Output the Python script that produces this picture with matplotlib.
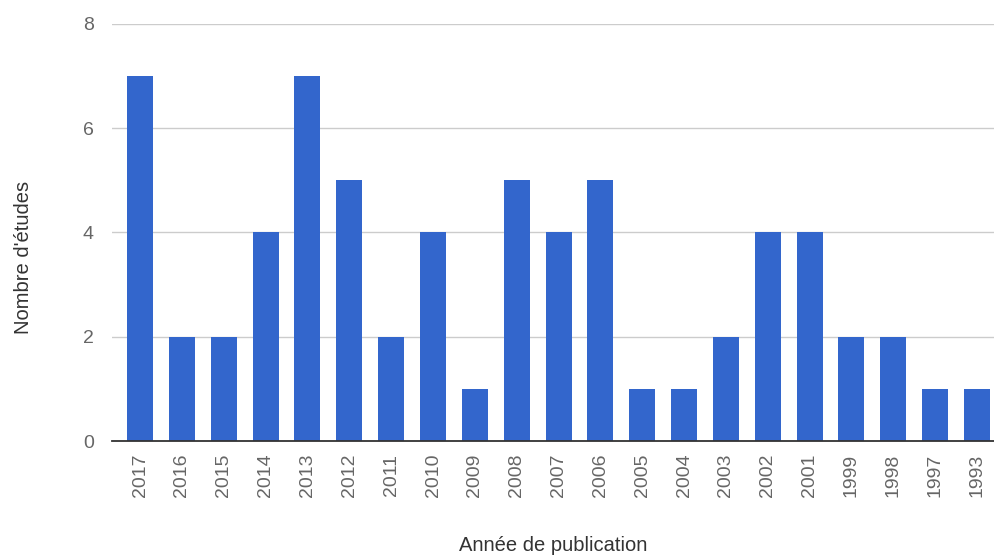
import matplotlib
matplotlib.use('Agg')
import matplotlib.pyplot as plt

years = ['2017', '2016', '2015', '2014', '2013', '2012', '2011', '2010', '2009', '2008', '2007',
         '2006', '2005', '2004', '2003', '2002', '2001', '1999', '1998', '1997', '1993']
counts = [7, 2, 2, 4, 7, 5, 2, 4, 1, 5, 4, 5, 1, 1, 2, 4, 4, 2, 2, 1, 1]
yticks = [0, 2, 4, 6, 8]

plt.rcParams['font.family'] = ['Liberation Sans', 'DejaVu Sans']

fig = plt.figure(figsize=(9.95, 5.55), dpi=100)
ax = fig.add_axes([0.1126, 0.2054, 0.8874, 0.7514])

x = list(range(len(years)))
ax.bar(x, counts, width=0.62, color='#3366cc', zorder=3)

ax.set_xlim(-0.67, len(years) - 0.57)
ax.set_ylim(0, 8)
ax.set_yticks(yticks)
ax.set_yticklabels([str(t) for t in yticks])
ax.set_xticks(x)
ax.set_xticklabels(years, rotation=90)

ax.grid(axis='y', color='#cccccc', linewidth=1, zorder=0)
for s in ['top', 'right', 'left']:
    ax.spines[s].set_visible(False)
ax.spines['bottom'].set_color('#333333')
ax.spines['bottom'].set_linewidth(1.3)
ax.spines['bottom'].set_zorder(4)

ax.tick_params(axis='both', length=0, labelsize=14, labelcolor='#666666')
ax.tick_params(axis='y', pad=13)
ax.tick_params(axis='x', pad=9)

ax.set_ylabel("Nombre d'études", fontsize=14.5, color='#333333')
ax.yaxis.set_label_coords(-0.09, 0.44)
ax.set_xlabel('Année de publication', fontsize=14.5, color='#333333', labelpad=28)

fig.savefig('out.png', dpi=100)
